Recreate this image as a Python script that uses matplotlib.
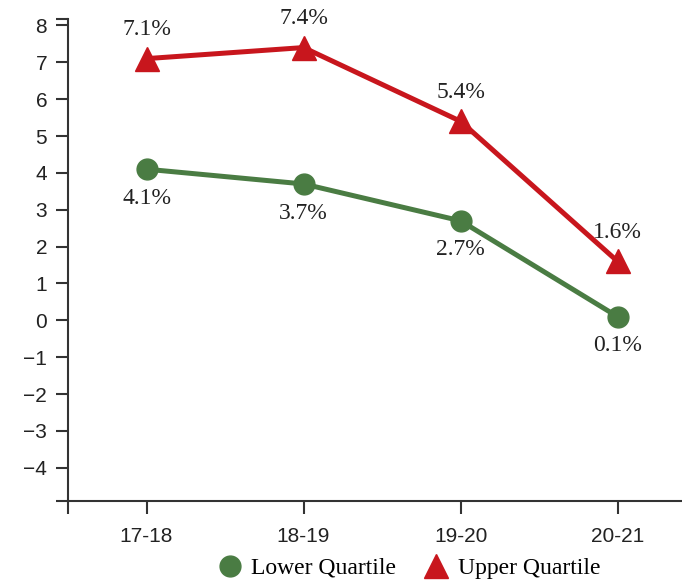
import matplotlib.pyplot as plt

# data
years = ['17-18', '18-19', '19-20', '20-21']
lower = [4.1, 3.7, 2.7, 0.1]
upper = [7.1, 7.4, 5.4, 1.6]

green = '#4a7c43'
red = '#c8161d'

fig = plt.figure(figsize=(6.82, 5.81), dpi=100)
ax = fig.add_axes([0.0997, 0.1377, 0.9003, 0.8293])

x = list(range(len(years)))
ax.plot(x, lower, color=green, lw=3.6, marker='o', ms=15, label='Lower Quartile', zorder=3)
ax.plot(x, upper, color=red, lw=3.6, marker='^', ms=17, label='Upper Quartile', zorder=3)

for xi, v in zip(x, lower):
    ax.annotate(f'{v}%', (xi, v), xytext=(0, -21), textcoords='offset points',
                ha='center', va='center', family='Liberation Serif', fontsize=17, color='#222222')
for xi, v in zip(x, upper):
    ax.annotate(f'{v}%', (xi, v), xytext=(0, 21), textcoords='offset points',
                ha='center', va='center', family='Liberation Serif', fontsize=17, color='#222222')

ax.set_xlim(-0.5, 3.41)
ax.set_ylim(-4.9, 8.17)
ax.set_xticks([-0.5] + x)
ax.set_xticklabels([''] + years)
ax.set_yticks([-4.9] + list(range(-4, 9)) + [8.17])
ax.set_yticklabels([''] + [str(i).replace('-', '\u2212') for i in range(-4, 9)] + [''])

for s in ['top', 'right']:
    ax.spines[s].set_visible(False)
for s in ['left', 'bottom']:
    ax.spines[s].set_color('#333333')
    ax.spines[s].set_linewidth(1.5)
ax.tick_params(length=9, width=1.5, color='#333333', labelsize=15,
               labelcolor='#222222', labelfontfamily='Liberation Sans')
ax.tick_params(axis='x', pad=10)
ax.tick_params(axis='y', pad=6)

fig.legend(loc='lower center', bbox_to_anchor=(0.6, -0.033), ncol=2, frameon=False,
           prop={'family': 'Liberation Serif', 'size': 17}, handlelength=1.0,
           columnspacing=1.2, handletextpad=0.4)
# legend handles without lines
leg = fig.legends[0]
for h in leg.legend_handles:
    h.set_linestyle('None')

fig.savefig('out.png', dpi=100)
